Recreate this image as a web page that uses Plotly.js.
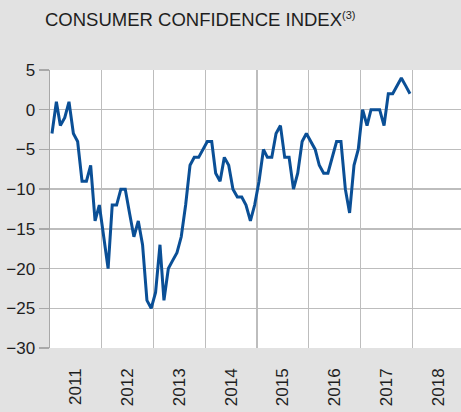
<!DOCTYPE html>
<html>
<head>
<meta charset="utf-8">
<script src="https://cdn.plot.ly/plotly-3.0.1.min.js"></script>
<style>
  html, body { margin: 0; padding: 0; background: #e2e2e2; }
  #chart { width: 461px; height: 412px; }
</style>
</head>
<body>
<div id="chart"></div>
<script>
// Monthly consumer confidence index, Jan 2011 – Dec 2017
const years = [2011, 2012, 2013, 2014, 2015, 2016, 2017];
const values2011 = [-3, 1, -2, -1, 1, -3, -4, -9, -9, -7, -14, -12];
const values2012 = [-16, -20, -12, -12, -10, -10, -13, -16, -14, -17, -24, -25];
const values2013 = [-23, -17, -24, -20, -19, -18, -16, -12, -7, -6, -6, -5];
const values2014 = [-4, -4, -8, -9, -6, -7, -10, -11, -11, -12, -14, -12];
const values2015 = [-9, -5, -6, -6, -3, -2, -6, -6, -10, -8, -4, -3];
const values2016 = [-4, -5, -7, -8, -8, -6, -4, -4, -10, -13, -7, -5];
const values2017 = [0, -2, 0, 0, 0, -2, 2, 2, 3, 4, 3, 2];
const yTicks = [5, 0, -5, -10, -15, -20, -25, -30];
const titleText = 'CONSUMER CONFIDENCE INDEX<sup><span style="font-size:11px">(3)</span></sup>';

const allValues = [values2011, values2012, values2013, values2014, values2015, values2016, values2017];
const x = [], y = [];
years.forEach((yr, k) => {
  allValues[k].forEach((v, m) => {
    x.push(yr + '-' + String(m + 1).padStart(2, '0') + '-15');
    y.push(v);
  });
});

const font = 'Liberation Sans, Arial, sans-serif';
const gridColor = '#bdbdbd';

Plotly.newPlot('chart', [{
  type: 'scatter',
  mode: 'lines',
  x: x,
  y: y,
  line: { color: '#0a4f96', width: 3 },
  hoverinfo: 'skip'
}], {
  width: 461,
  height: 412,
  paper_bgcolor: '#e2e2e2',
  plot_bgcolor: '#ffffff',
  margin: { l: 50, r: 0, t: 70, b: 64 },
  showlegend: false,
  font: { family: font, color: '#1e1e1e', size: 17 },
  title: {
    text: titleText,
    font: { family: font, size: 18.5, color: '#1e1e1e' },
    xref: 'container', yref: 'container',
    x: 45 / 461, xanchor: 'left',
    y: 1 - 20 / 412, yanchor: 'middle'
  },
  xaxis: {
    type: 'date',
    range: ['2011-01-01', '2018-12-10'],
    tick0: '2011-01-01',
    dtick: 'M12',
    tickformat: '%Y',
    ticklabelmode: 'period',
    tickangle: -90,
    ticks: '',
    ticklabelstandoff: 16,
    showgrid: true,
    gridcolor: gridColor,
    gridwidth: 1.2,
    zeroline: false,
    showline: false,
    tickfont: { family: font, size: 17, color: '#1e1e1e' },
    fixedrange: true
  },
  yaxis: {
    range: [-30, 5],
    tickvals: yTicks,
    ticks: 'outside',
    ticklen: 10,
    tickcolor: '#a8a8a8',
    tickwidth: 1.3,
    showgrid: true,
    gridcolor: gridColor,
    gridwidth: 1.3,
    zeroline: false,
    showline: true,
    linecolor: '#a8a8a8',
    linewidth: 1.5,
    mirror: true,
    tickfont: { family: font, size: 17, color: '#1e1e1e' },
    fixedrange: true
  }
}, { displayModeBar: false, staticPlot: true });
</script>
</body>
</html>
